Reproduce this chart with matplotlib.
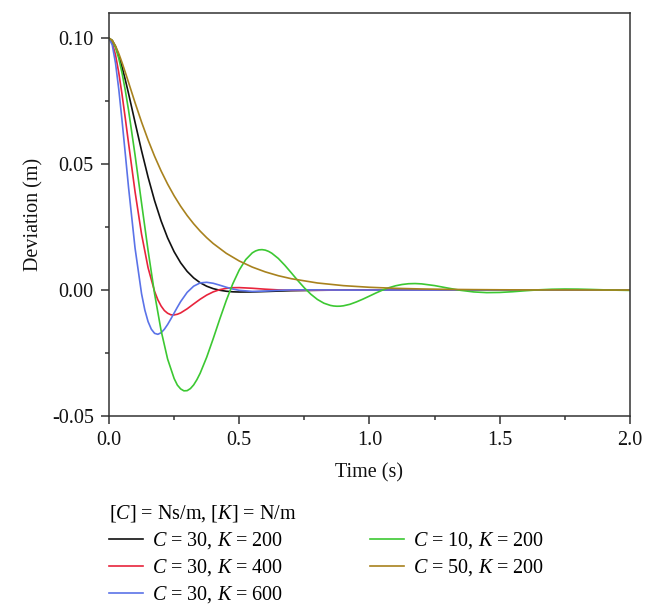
import matplotlib
matplotlib.use('Agg')
import matplotlib.pyplot as plt
from matplotlib.ticker import MultipleLocator, FormatStrFormatter

plt.rcParams['font.family'] = ['Liberation Serif', 'DejaVu Serif']
plt.rcParams['mathtext.fontset'] = 'custom'
plt.rcParams['mathtext.rm'] = 'Liberation Serif'
plt.rcParams['mathtext.it'] = 'Liberation Serif:italic'

# ---- data ----
t_c30_k200 = [0, 0.0125, 0.025, 0.0375, 0.05, 0.0625, 0.075, 0.1, 0.125, 0.15, 0.175,
              0.2, 0.225, 0.25, 0.275, 0.3, 0.325, 0.35, 0.375, 0.4, 0.425, 0.45,
              0.475, 0.5, 0.55, 0.6, 0.65, 0.7, 0.8, 0.9, 1.0, 1.5, 2.0]
y_c30_k200 = [0.1, 0.09910, 0.09667, 0.09306, 0.08858, 0.08351, 0.07805, 0.06660,
              0.05532, 0.04484, 0.03548, 0.02745, 0.02071, 0.01521, 0.01083, 0.00741,
              0.00482, 0.00290, 0.00152, 0.00056, -0.00007, -0.00047, -0.00070,
              -0.00078, -0.00075, -0.00059, -0.00041, -0.00026, -0.00008, -0.00001,
              0.0, 0.0, 0.0]

t_c30_k400 = [0, 0.0125, 0.025, 0.0375, 0.05, 0.0625, 0.075, 0.1, 0.125, 0.15, 0.175,
              0.1875, 0.2, 0.2125, 0.225, 0.2375, 0.25, 0.2625, 0.275, 0.3, 0.325,
              0.35, 0.375, 0.4, 0.425, 0.45, 0.475, 0.5, 0.55, 0.6, 0.65, 0.7, 0.8,
              0.9, 1.0, 1.5, 2.0]
y_c30_k400 = [0.1, 0.09819, 0.09337, 0.08630, 0.07771, 0.06822, 0.05835, 0.03905,
              0.02217, 0.00886, -0.00054, -0.00387, -0.00634, -0.00813, -0.00921,
              -0.00982, -0.00988, -0.00961, -0.00908, -0.00745, -0.00552, -0.00364,
              -0.00200, -0.00073, 0.00015, 0.00067, 0.00093, 0.00097, 0.00071,
              0.00034, 0.00006, -0.00007, -0.00007, 0.0, 0.0, 0.0, 0.0]

t_c30_k600 = [0, 0.0125, 0.025, 0.0375, 0.05, 0.0625, 0.075, 0.1, 0.125, 0.1375, 0.15,
              0.1625, 0.175, 0.1875, 0.2, 0.2125, 0.225, 0.2375, 0.25, 0.2625, 0.275,
              0.3, 0.325, 0.35, 0.375, 0.4, 0.425, 0.45, 0.475, 0.5, 0.55, 0.6, 0.65,
              0.7, 0.8, 0.9, 1.0, 1.5, 2.0]
y_c30_k600 = [0.1, 0.09730, 0.09011, 0.07973, 0.06738, 0.05414, 0.04080, 0.01667,
              -0.00147, -0.00790, -0.01253, -0.01555, -0.01719, -0.01757, -0.01696,
              -0.01557, -0.01368, -0.01147, -0.00912, -0.00681, -0.00459, -0.00092,
              0.00154, 0.00284, 0.00308, 0.00269, 0.00194, 0.00113, 0.00040, -0.00011,
              -0.00054, -0.00040, -0.00012, 0.00006, 0.00006, 0.0, 0.0, 0.0, 0.0]

t_c10_k200 = [0, 0.0125, 0.025, 0.0375, 0.05, 0.0625, 0.075, 0.1, 0.125, 0.15, 0.175,
              0.2, 0.225, 0.25, 0.2625, 0.275, 0.2875, 0.3, 0.3125, 0.325, 0.3375,
              0.35, 0.375, 0.4, 0.425, 0.45, 0.475, 0.5, 0.525, 0.55, 0.5625, 0.575,
              0.5875, 0.6, 0.6125, 0.625, 0.65, 0.675, 0.7, 0.725, 0.75, 0.775, 0.8,
              0.825, 0.85, 0.8625, 0.875, 0.8875, 0.9, 0.925, 0.95, 0.975, 1.0, 1.025,
              1.05, 1.075, 1.1, 1.125, 1.15, 1.175, 1.2, 1.25, 1.3, 1.35, 1.4, 1.45,
              1.5, 1.55, 1.6, 1.65, 1.7, 1.75, 1.8, 1.85, 1.9, 1.95, 2.0]
y_c10_k200 = [0.1, 0.09905, 0.09632, 0.09197, 0.08623, 0.07932, 0.07143, 0.05364,
              0.03453, 0.01573, -0.00149, -0.01610, -0.02739, -0.03512, -0.03774,
              -0.03925, -0.04001, -0.03994, -0.03912, -0.03766, -0.03557, -0.03301,
              -0.02668, -0.01931, -0.01159, -0.00420, 0.00244, 0.00796, 0.01210,
              0.01476, 0.01552, 0.01595, 0.01605, 0.01585, 0.01536, 0.01462, 0.01254,
              0.00983, 0.00682, 0.00375, 0.00086, -0.00167, -0.00373, -0.00522,
              -0.00610, -0.00633, -0.00643, -0.00640, -0.00625, -0.00565, -0.00470,
              -0.00359, -0.00238, -0.00115, -0.00002, 0.00094, 0.00169, 0.00221,
              0.00251, 0.00258, 0.00245, 0.00177, 0.00080, -0.00011, -0.00075,
              -0.00102, -0.00095, -0.00066, -0.00026, 0.00009, 0.00032, 0.00041,
              0.00037, 0.00024, 0.00008, -0.00005, -0.00014]

t_c50_k200 = [0, 0.0125, 0.025, 0.0375, 0.05, 0.0625, 0.075, 0.1, 0.125, 0.15, 0.175,
              0.2, 0.225, 0.25, 0.275, 0.3, 0.325, 0.35, 0.375, 0.4, 0.45, 0.5, 0.55,
              0.6, 0.65, 0.7, 0.8, 0.9, 1.0, 1.1, 1.2, 1.3, 1.4, 1.5, 1.6, 1.7, 1.8,
              1.9, 2.0]
y_c50_k200 = [0.1, 0.09914, 0.09695, 0.09392, 0.09034, 0.08646, 0.08245, 0.07439,
              0.06670, 0.05959, 0.05312, 0.04729, 0.04208, 0.03743, 0.03328, 0.02959,
              0.02631, 0.02339, 0.02079, 0.01848, 0.01460, 0.01154, 0.00912, 0.00721,
              0.00569, 0.00450, 0.00281, 0.00175, 0.00110, 0.00068, 0.00043, 0.00027,
              0.00017, 0.00010, 0.00006, 0.00004, 0.00002, 0.00001, 0.00001]

labels = ['$C$ = 30, $K$ = 200', '$C$ = 30, $K$ = 400', '$C$ = 30, $K$ = 600',
          '$C$ = 10, $K$ = 200', '$C$ = 50, $K$ = 200']
colors = ['#111111', '#e8243c', '#5b73e8', '#3cc832', '#a8821e']
legend_title = '[$C$] = Ns/m, [$K$] = N/m'

series = [(t_c30_k200, y_c30_k200), (t_c30_k400, y_c30_k400), (t_c30_k600, y_c30_k600),
          (t_c10_k200, y_c10_k200), (t_c50_k200, y_c50_k200)]

FS = 14.5
fig = plt.figure(figsize=(6.57, 6.16), dpi=100)
ax = fig.add_axes([0.1659, 0.3247, 0.793, 0.6542])

handles = []
for (tt, yy), lab, col in zip(series, labels, colors):
    h, = ax.plot(tt, yy, color=col, lw=1.2, label=lab, solid_joinstyle='round')
    handles.append(h)

ax.set_xlim(0, 2.0)
ax.set_ylim(-0.05, 0.110)
ax.xaxis.set_major_locator(MultipleLocator(0.5))
ax.xaxis.set_minor_locator(MultipleLocator(0.25))
ax.yaxis.set_major_locator(MultipleLocator(0.05))
ax.yaxis.set_minor_locator(MultipleLocator(0.025))
ax.xaxis.set_major_formatter(FormatStrFormatter('%.1f'))
ax.yaxis.set_major_formatter(FormatStrFormatter('%.2f'))

for s in ax.spines.values():
    s.set_linewidth(1.1)
    s.set_color('#333333')
ax.tick_params(which='both', direction='out', top=False, right=False,
               width=1.1, color='#333333', labelsize=FS, labelcolor='#111111')
ax.tick_params(which='major', length=6, pad=5)
ax.tick_params(which='minor', length=3)

ax.set_xlabel('Time (s)', fontsize=FS, labelpad=9, color='#111111')
ax.set_ylabel('Deviation (m)', fontsize=FS, labelpad=6, color='#111111')

fig.legend(handles=handles, labels=labels, ncol=2, loc='upper left',
           bbox_to_anchor=(0.1655, 0.183), frameon=False, title=legend_title,
           alignment='left', fontsize=FS, title_fontsize=FS, handlelength=1.7,
           handletextpad=0.45, columnspacing=4.3, labelspacing=0.30, borderpad=0,
           borderaxespad=0)

fig.savefig('out.png', dpi=100)
